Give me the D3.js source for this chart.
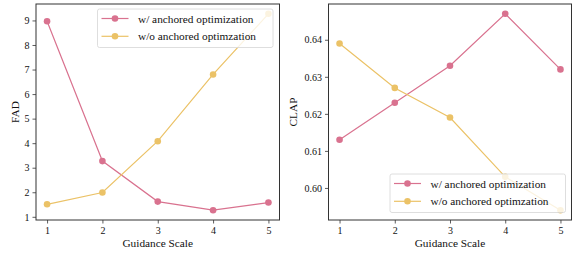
<!DOCTYPE html>
<html><head><meta charset="utf-8">
<script src="https://cdn.jsdelivr.net/npm/d3@7"></script>
<style>body{margin:0;background:#fff}svg{display:block}</style>
</head><body><svg id="c" width="574" height="255"></svg>
<script>
const scales = [1, 2, 3, 4, 5];
const fadWith = [8.97, 3.27, 1.62, 1.27, 1.58];
const fadWithout = [1.51, 1.99, 4.08, 6.80, 9.27];
const clapWith = [0.613, 0.623, 0.633, 0.647, 0.632];
const clapWithout = [0.639, 0.627, 0.619, 0.603, 0.594];
const fadTicks = [1, 2, 3, 4, 5, 6, 7, 8, 9];
const clapTicks = [0.60, 0.61, 0.62, 0.63, 0.64];
const seriesNames = ["w/ anchored optimization", "w/o anchored optimzation"];
const colors = ["#d9728f", "#ebc267"];
const FONT = '"Liberation Serif"';

const svg = d3.select("#c");

function panel(opt) {
  const g = svg.append("g");
  const x = d3.scaleLinear().domain([0.8, 5.2]).range([opt.x0, opt.x1]);
  const lo = d3.min([...opt.a, ...opt.b]), hi = d3.max([...opt.a, ...opt.b]);
  const m = (hi - lo) * 0.05;
  const y = d3.scaleLinear().domain([lo - m, hi + m]).range([opt.y1, opt.y0]);
  const clipId = "clip" + opt.id;
  svg.append("clipPath").attr("id", clipId).append("rect")
    .attr("x", opt.x0).attr("y", opt.y0).attr("width", opt.x1 - opt.x0).attr("height", opt.y1 - opt.y0);
  const plot = g.append("g").attr("clip-path", `url(#${clipId})`);
  const line = d3.line().x((d, i) => x(scales[i])).y(d => y(d));
  [opt.a, opt.b].forEach((s, k) => {
    plot.append("path").datum(s).attr("d", line).attr("fill", "none")
      .attr("stroke", colors[k]).attr("stroke-width", 1.2);
    plot.selectAll(null).data(s).enter().append("circle")
      .attr("cx", (d, i) => x(scales[i])).attr("cy", d => y(d)).attr("r", 3.3)
      .attr("fill", colors[k]);
  });
  const xa = g.append("g").attr("transform", `translate(0,${opt.y1})`)
    .call(d3.axisBottom(x).tickValues(scales).tickFormat(d3.format("d")).tickSizeOuter(0).tickSize(3.5).tickPadding(3));
  const ya = g.append("g").attr("transform", `translate(${opt.x0},0)`)
    .call(d3.axisLeft(y).tickValues(opt.ticks).tickFormat(opt.fmt).tickSizeOuter(0).tickSize(3.5).tickPadding(3));
  [xa, ya].forEach(a => {
    a.select(".domain").remove();
    a.style("font-family", FONT).style("font-size", "10px");
    a.selectAll("line").attr("stroke", "#333").attr("stroke-width", 0.8);
    a.selectAll("text").style("font-size", "10px").style("font-family", FONT).attr("fill", "#111");
  });
  g.append("rect").attr("x", opt.x0).attr("y", opt.y0).attr("width", opt.x1 - opt.x0).attr("height", opt.y1 - opt.y0)
    .attr("fill", "none").attr("stroke", "#333").attr("stroke-width", 1);
  g.append("text").attr("x", (opt.x0 + opt.x1) / 2).attr("y", 247).attr("text-anchor", "middle")
    .style("font-family", FONT).style("font-size", "11.3px").attr("fill", "#111").text("Guidance Scale");
  g.append("text").attr("transform", `translate(${opt.ylx},${(opt.y0 + opt.y1) / 2}) rotate(-90)`)
    .attr("text-anchor", "middle").style("font-family", FONT).style("font-size", "11.3px").attr("fill", "#111").text(opt.ylabel);
  const L = opt.legend;
  const lg = g.append("g");
  lg.append("rect").attr("x", L.x).attr("y", L.y).attr("width", L.w).attr("height", L.h).attr("rx", 2)
    .attr("fill", "rgba(255,255,255,0.8)").attr("stroke", "#d6d6d6").attr("stroke-width", 0.8);
  seriesNames.forEach((n, k) => {
    const yy = L.y + 9.5 + k * 17.8;
    lg.append("line").attr("x1", L.x + 4).attr("x2", L.x + 31).attr("y1", yy).attr("y2", yy)
      .attr("stroke", colors[k]).attr("stroke-width", 1.2);
    lg.append("circle").attr("cx", L.x + 17.5).attr("cy", yy).attr("r", 3.3).attr("fill", colors[k]);
    lg.append("text").attr("x", L.x + 40.5).attr("y", yy + 4).style("font-family", FONT)
      .style("font-size", "11.3px").attr("fill", "#111").text(n);
  });
}

panel({id: 1, x0: 36, x1: 279.5, y0: 4, y1: 220, a: fadWith, b: fadWithout, ticks: fadTicks,
  fmt: d3.format("d"), ylabel: "FAD", ylx: 19, legend: {x: 97.5, y: 9, w: 175.5, h: 38.5}});
panel({id: 2, x0: 328.5, x1: 571.5, y0: 4, y1: 220, a: clapWith, b: clapWithout, ticks: clapTicks,
  fmt: d3.format(".2f"), ylabel: "CLAP", ylx: 297, legend: {x: 390, y: 174, w: 175.5, h: 38.5}});
</script></body></html>
